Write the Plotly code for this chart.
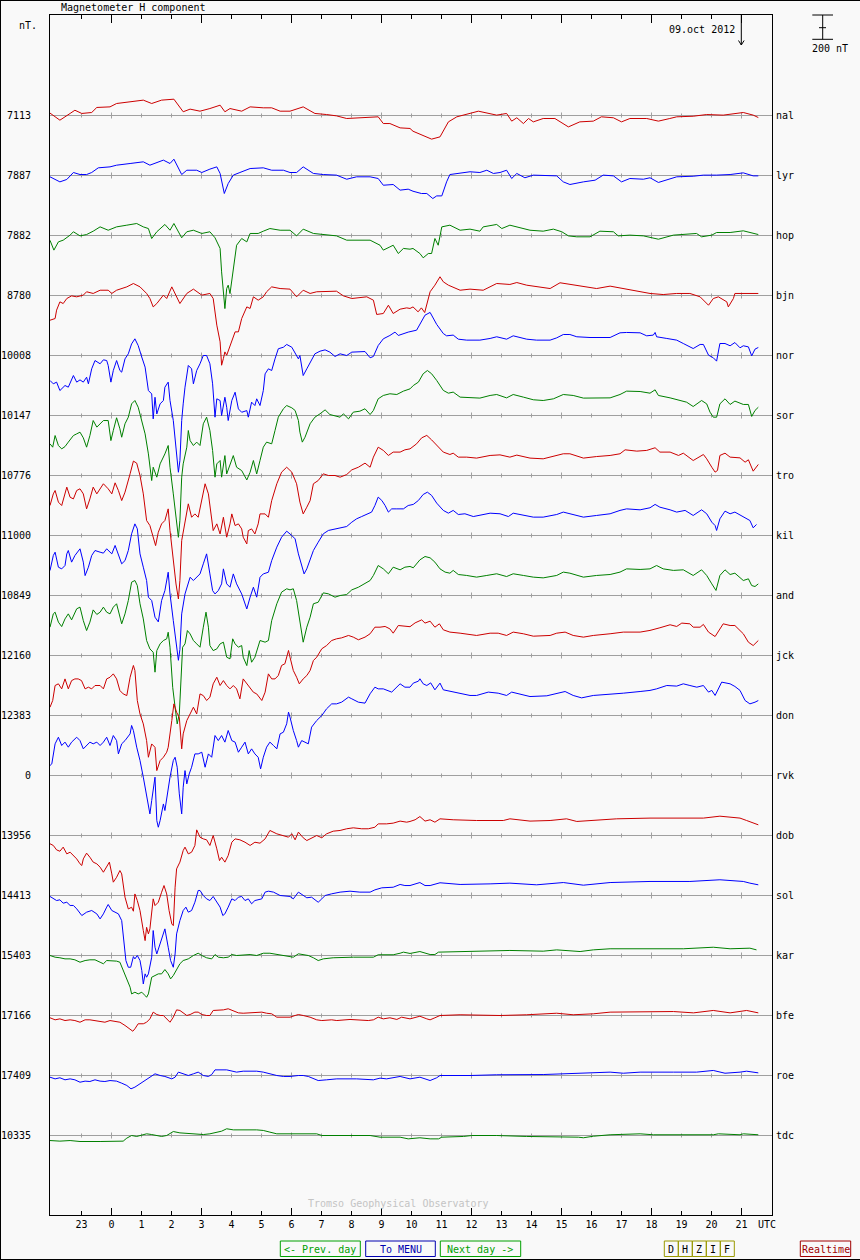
import plotly.graph_objects as go

# stations top to bottom, with the base value printed on the left
stations = ["nal", "lyr", "hop", "bjn", "nor", "sor", "tro", "kil", "and",
            "jck", "don", "rvk", "dob", "sol", "kar", "bfe", "roe", "tdc"]
base_labels = ["7113", "7887", "7882", "8780", "10008", "10147", "10776", "11000", "10849",
               "12160", "12383", "0", "13956", "14413", "15403", "17166", "17409", "10335"]

hour_ticks = list(range(-1, 22))
hour_labels = ["23", "0", "1", "2", "3", "4", "5", "6", "7", "8", "9", "10",
               "11", "12", "13", "14", "15", "16", "17", "18", "19", "20", "21"]

# H deviation from base, (hour UTC, nT); hours < 0 belong to the previous day
nal = [(-2.05, 20), (-1.72, -39), (-1.38, 17), (-1.22, 44), (-0.99, 17), (-0.66, 25), (-0.49, 67),
       (-0.05, 72), (0.17, 100), (1.06, 128), (1.34, 100), (1.67, 128), (2.08, 136), (2.39, 31),
       (2.62, 53), (2.95, 36), (3.28, 58), (3.62, 86), (3.78, 31), (3.95, 58), (4.34, 36), (4.62, 72),
       (5.06, 64), (5.34, 64), (5.62, 36), (5.95, 36), (6.39, 72), (6.78, 17), (7.17, 8), (7.5, -3),
       (7.84, -25), (8.39, -17), (8.89, -11), (9.06, -67), (9.28, -67), (9.62, -103), (9.95, -108),
       (10.05, -131), (10.39, -164), (10.67, -197), (10.95, -178), (11.23, -53), (11.51, -11),
       (11.95, 17), (12.23, 36), (12.84, 3), (13.17, 17), (13.34, -47), (13.51, -19), (13.73, -67),
       (13.9, -25), (14.06, -53), (14.39, -25), (14.78, -25), (15.06, -67), (15.23, -95), (15.61, -53),
       (16.06, -47), (16.33, -11), (16.73, -19), (17.0, -53), (17.28, -25), (17.84, -25), (18.23, -47),
       (18.61, -25), (18.84, -11), (19.39, -6), (19.84, 8), (20.39, 3), (21.06, 25), (21.39, 3),
       (21.56, -17)]

lyr = [(-2.05, -11), (-1.72, -53), (-1.49, -33), (-1.27, 25), (-1.05, 8), (-0.83, 8), (-0.66, 25),
       (-0.44, 64), (-0.05, 72), (0.17, 86), (0.62, 100), (1.06, 114), (1.28, 86), (1.51, 108),
       (1.73, 128), (1.95, 100), (2.08, 136), (2.34, 8), (2.51, 44), (2.84, 44), (3.01, 25), (3.28, 53),
       (3.51, 72), (3.62, 17), (3.71, -81), (3.76, -150), (3.89, -67), (4.06, 3), (4.28, 25),
       (4.62, 58), (5.06, 64), (5.34, 44), (5.73, 44), (5.95, 25), (6.17, 25), (6.39, 72), (6.73, 17),
       (7.06, 8), (7.5, 3), (7.84, -31), (8.17, -11), (8.62, -11), (8.89, -25), (9.06, -81),
       (9.39, -75), (9.62, -122), (9.89, -114), (10.05, -131), (10.33, -150), (10.51, -150),
       (10.71, -192), (10.84, -170), (11.01, -170), (11.17, -53), (11.28, 8), (11.62, 17), (11.95, 31),
       (12.28, 25), (12.51, 44), (12.73, 17), (12.95, 25), (13.17, 44), (13.34, -25), (13.51, 17),
       (13.78, -19), (14.06, 3), (14.39, 3), (14.84, -3), (15.06, -53), (15.28, -75), (15.73, -53),
       (16.12, -39), (16.39, 3), (16.73, -3), (17.0, -53), (17.28, -25), (17.73, -31), (17.95, -19),
       (18.23, -58), (18.51, -39), (18.84, -11), (19.39, -6), (19.73, 3), (20.17, 3), (20.62, 8),
       (21.06, 22), (21.39, -3), (21.56, -3)]

hop = [(-2.05, -40), (-1.92, -122), (-1.77, -53), (-1.61, -39), (-1.38, 3), (-1.27, 31), (-1.05, -3),
       (-0.83, 8), (-0.61, 36), (-0.38, 72), (-0.11, 44), (0.17, 72), (0.51, 86), (0.84, 100),
       (1.06, 72), (1.23, 58), (1.34, -25), (1.51, 31), (1.78, 92), (1.95, 44), (2.08, 100),
       (2.34, -19), (2.51, 31), (2.73, 44), (3.01, 17), (3.28, 31), (3.45, -19), (3.62, -108),
       (3.67, -303), (3.73, -470), (3.78, -609), (3.84, -442), (3.89, -414), (3.95, -484),
       (4.04, -303), (4.17, -81), (4.34, -25), (4.51, -53), (4.62, 17), (4.89, 17), (5.06, 36),
       (5.28, 58), (5.62, 44), (5.95, 44), (6.17, -3), (6.39, 53), (6.73, 17), (7.17, 8), (7.5, -3),
       (7.84, -39), (8.17, -39), (8.62, -39), (8.95, -81), (9.06, -122), (9.28, -95), (9.39, -81),
       (9.56, -150), (9.73, -108), (9.95, -114), (10.05, -108), (10.28, -150), (10.39, -186),
       (10.56, -150), (10.67, -150), (10.78, -25), (10.89, -81), (11.01, 72), (11.28, 86), (11.62, 44),
       (11.95, 53), (12.28, 36), (12.39, 72), (12.84, 92), (13.01, 58), (13.28, 86), (13.61, 64),
       (13.95, 44), (14.39, 36), (14.73, 53), (15.01, 31), (15.23, -3), (15.51, -11), (15.95, -11),
       (16.28, 36), (16.73, 31), (16.89, -3), (17.28, 3), (17.73, -3), (18.23, -31), (18.73, 3),
       (19.06, 11), (19.5, 17), (19.67, -11), (20.01, 3), (20.17, 25), (20.62, 25), (21.06, 39),
       (21.56, 8)]

bjn = [(-2.05, -206), (-1.88, -192), (-1.83, -122), (-1.72, -53), (-1.61, -67), (-1.49, -25),
       (-1.33, -3), (-1.16, -11), (-0.94, 3), (-0.83, 31), (-0.61, 17), (-0.38, 44), (-0.11, 44),
       (0.01, 17), (0.17, 44), (0.51, 72), (0.73, 100), (0.95, 72), (1.17, 17), (1.28, -25),
       (1.39, -95), (1.51, -67), (1.73, 3), (1.84, -25), (2.01, 72), (2.12, 17), (2.28, -67),
       (2.51, 17), (2.73, 53), (3.01, 3), (3.28, 17), (3.39, -25), (3.51, -247), (3.62, -386),
       (3.67, -581), (3.73, -525), (3.78, -470), (3.84, -498), (4.01, -386), (4.12, -303),
       (4.23, -303), (4.34, -192), (4.51, -95), (4.62, -108), (4.73, -11), (4.89, -39), (5.06, -11),
       (5.17, 31), (5.34, 72), (5.62, 58), (5.95, 53), (6.17, -11), (6.39, 44), (6.62, 17), (6.84, 31),
       (7.5, 36), (7.73, -3), (8.01, -25), (8.51, -11), (8.73, -39), (8.84, -158), (9.06, -150),
       (9.23, -81), (9.39, -150), (9.62, -114), (9.84, -103), (9.95, -108), (10.05, -95),
       (10.22, -136), (10.33, -103), (10.44, -142), (10.51, -81), (10.62, 31), (10.78, 86),
       (10.95, 156), (11.06, 114), (11.23, 86), (11.62, 44), (11.95, 53), (12.39, 44), (12.84, 100),
       (13.28, 92), (13.51, 108), (13.84, 86), (14.17, 72), (14.62, 58), (14.95, 106), (15.51, 86),
       (15.84, 72), (16.17, 58), (16.62, 78), (17.06, 58), (17.51, 36), (17.95, 17), (18.39, 8),
       (18.84, 17), (19.28, 17), (19.62, -11), (19.9, -81), (20.06, -25), (20.23, -11), (20.51, -53),
       (20.56, -95), (20.73, -25), (20.78, 17), (21.06, 17), (21.56, 17)]

nor = [(-2.05, -208), (-1.94, -236), (-1.83, -222), (-1.72, -292), (-1.55, -250), (-1.44, -264),
       (-1.27, -167), (-1.16, -222), (-1.05, -203), (-0.94, -222), (-0.83, -181), (-0.77, -236),
       (-0.66, -111), (-0.55, -42), (-0.38, -69), (-0.27, -36), (-0.16, -42), (-0.11, -83),
       (-0.02, -222), (0.06, -125), (0.17, -42), (0.28, -125), (0.34, -139), (0.45, -28), (0.56, 14),
       (0.67, 97), (0.78, 139), (0.89, 83), (1.01, -14), (1.12, -97), (1.23, -292), (1.34, -320),
       (1.39, -528), (1.45, -348), (1.51, -487), (1.62, -403), (1.73, -375), (1.78, -264),
       (1.89, -222), (1.95, -375), (2.06, -542), (2.15, -792), (2.23, -973), (2.28, -876),
       (2.34, -542), (2.39, -403), (2.45, -264), (2.56, -83), (2.67, -111), (2.73, -236),
       (2.84, -125), (2.95, -69), (3.06, 0), (3.17, 0), (3.28, -69), (3.37, -236), (3.45, -514),
       (3.51, -361), (3.62, -375), (3.67, -500), (3.78, -348), (3.84, -431), (3.89, -542),
       (4.01, -375), (4.12, -306), (4.23, -445), (4.34, -473), (4.51, -459), (4.56, -514),
       (4.67, -389), (4.78, -417), (4.84, -361), (4.95, -417), (5.06, -292), (5.12, -153),
       (5.23, -111), (5.34, -125), (5.45, -28), (5.56, 56), (5.73, 69), (5.84, 92), (6.01, 69),
       (6.12, 14), (6.23, -28), (6.28, 0), (6.39, -167), (6.51, -111), (6.62, -56), (6.78, 14),
       (6.95, 36), (7.12, 47), (7.28, 28), (7.45, -8), (7.62, 14), (7.84, 0), (8.01, 28), (8.17, 28),
       (8.45, 33), (8.62, -19), (8.73, -8), (8.89, 83), (9.06, 139), (9.28, 167), (9.45, 195),
       (9.56, 167), (9.73, 181), (9.89, 195), (10.17, 211), (10.34, 295), (10.45, 336), (10.62, 359),
       (10.73, 309), (10.84, 259), (11.06, 183), (11.17, 164), (11.39, 170), (11.56, 136),
       (11.84, 128), (12.28, 128), (12.62, 142), (12.84, 156), (13.17, 136), (13.39, 164),
       (13.84, 136), (14.17, 128), (14.62, 128), (14.84, 147), (15.06, 175), (15.28, 175),
       (15.51, 156), (15.95, 150), (16.62, 150), (16.95, 189), (17.17, 192), (17.62, 189),
       (17.84, 164), (18.06, 170), (18.12, 192), (18.17, 156), (18.51, 142), (18.84, 128),
       (19.06, 100), (19.39, 58), (19.62, 92), (19.73, 92), (19.9, 3), (20.06, -19), (20.17, -47),
       (20.28, 100), (20.45, 100), (20.62, 81), (20.78, 108), (20.95, 64), (21.06, 81), (21.23, 72),
       (21.34, -3), (21.45, 53), (21.56, 67)]

sor = [(-2.05, -236), (-1.96, -264), (-1.88, -167), (-1.77, -250), (-1.66, -278), (-1.55, -259),
       (-1.44, -222), (-1.27, -167), (-1.16, -153), (-1.05, -139), (-0.94, -186), (-0.83, -264),
       (-0.72, -167), (-0.61, -42), (-0.49, -97), (-0.38, -69), (-0.27, -42), (-0.11, -42),
       (-0.02, -209), (0.06, -125), (0.17, -19), (0.28, -111), (0.34, -181), (0.45, -69), (0.56, -14),
       (0.67, 97), (0.78, 125), (0.89, 69), (1.01, -42), (1.12, -153), (1.23, -320), (1.34, -542),
       (1.39, -431), (1.51, -514), (1.62, -403), (1.73, -348), (1.78, -320), (1.89, -250),
       (1.95, -431), (2.06, -653), (2.15, -876), (2.23, -1015), (2.28, -876), (2.34, -514),
       (2.39, -403), (2.51, -264), (2.56, -125), (2.62, -209), (2.73, -250), (2.84, -222),
       (2.95, -250), (3.06, -69), (3.17, -14), (3.28, -125), (3.37, -292), (3.45, -514), (3.51, -403),
       (3.62, -375), (3.67, -514), (3.78, -334), (3.84, -487), (3.95, -403), (4.06, -334),
       (4.17, -431), (4.34, -459), (4.51, -537), (4.62, -473), (4.73, -375), (4.84, -487),
       (4.95, -375), (5.06, -264), (5.17, -222), (5.34, -236), (5.45, -125), (5.56, -14), (5.73, 56),
       (5.84, 83), (6.01, 64), (6.12, 42), (6.23, -42), (6.28, -139), (6.36, -222), (6.45, -181),
       (6.62, -69), (6.78, -14), (6.95, 14), (7.12, 47), (7.28, 8), (7.45, 0), (7.62, -14), (7.73, 14),
       (7.9, -28), (8.06, 28), (8.28, 36), (8.45, 56), (8.62, 8), (8.73, 42), (8.89, 139), (9.06, 167),
       (9.28, 181), (9.51, 175), (9.73, 203), (9.95, 222), (10.06, 250), (10.23, 278), (10.39, 348),
       (10.53, 375), (10.67, 348), (10.84, 292), (11.06, 209), (11.23, 186), (11.39, 195),
       (11.62, 153), (11.95, 147), (12.28, 145), (12.62, 167), (12.84, 175), (13.17, 147),
       (13.39, 175), (13.73, 153), (14.06, 131), (14.39, 125), (14.73, 139), (15.06, 175),
       (15.39, 167), (15.73, 145), (16.17, 145), (16.62, 147), (16.95, 175), (17.17, 203),
       (17.62, 200), (17.95, 186), (18.12, 214), (18.23, 167), (18.62, 147), (18.95, 125),
       (19.17, 111), (19.39, 75), (19.67, 125), (19.84, 97), (19.95, 28), (20.06, -14), (20.17, -14),
       (20.28, 97), (20.45, 139), (20.62, 92), (20.78, 120), (21.06, 92), (21.23, 92), (21.34, -8),
       (21.45, 42), (21.56, 69)]

tro = [(-2.05, -250), (-1.94, -153), (-1.88, -125), (-1.77, -222), (-1.66, -250), (-1.55, -153),
       (-1.49, -97), (-1.38, -181), (-1.27, -195), (-1.16, -125), (-1.05, -111), (-0.94, -153),
       (-0.83, -278), (-0.72, -195), (-0.61, -97), (-0.49, -153), (-0.38, -111), (-0.27, -69),
       (-0.11, -111), (0.01, -153), (0.12, -61), (0.23, -125), (0.34, -209), (0.45, -139), (0.62, 14),
       (0.73, 120), (0.84, 103), (0.95, 0), (1.06, -153), (1.17, -375), (1.28, -417), (1.39, -514),
       (1.47, -584), (1.56, -473), (1.67, -403), (1.78, -375), (1.89, -278), (1.95, -459),
       (2.06, -709), (2.15, -904), (2.23, -1029), (2.28, -876), (2.34, -542), (2.45, -375),
       (2.56, -236), (2.67, -348), (2.78, -320), (2.89, -348), (3.01, -209), (3.12, -69),
       (3.23, -153), (3.34, -375), (3.39, -459), (3.51, -403), (3.62, -487), (3.73, -348),
       (3.84, -514), (3.95, -403), (4.01, -320), (4.12, -417), (4.23, -403), (4.34, -445),
       (4.39, -514), (4.51, -570), (4.56, -459), (4.67, -445), (4.78, -487), (4.89, -403),
       (4.95, -320), (5.12, -320), (5.23, -348), (5.34, -209), (5.51, -69), (5.67, 28), (5.84, 69),
       (6.01, 28), (6.17, -69), (6.28, -222), (6.39, -320), (6.51, -264), (6.62, -209), (6.73, -69),
       (6.89, -42), (7.06, 14), (7.23, 0), (7.45, 0), (7.62, -14), (7.84, 8), (8.01, 47), (8.23, 69),
       (8.45, 103), (8.62, 69), (8.73, 153), (8.89, 236), (9.06, 209), (9.23, 167), (9.39, 195),
       (9.62, 195), (9.78, 214), (9.95, 222), (10.17, 264), (10.34, 314), (10.51, 334), (10.67, 297),
       (10.84, 250), (11.06, 195), (11.28, 175), (11.39, 186), (11.56, 153), (11.84, 153),
       (12.17, 145), (12.62, 167), (12.95, 172), (13.28, 153), (13.51, 170), (13.95, 145),
       (14.39, 139), (14.84, 167), (15.06, 181), (15.28, 181), (15.73, 145), (16.17, 158),
       (16.62, 167), (16.95, 181), (17.12, 214), (17.51, 203), (17.84, 209), (18.12, 231),
       (18.28, 195), (18.62, 195), (18.9, 167), (19.06, 186), (19.39, 125), (19.73, 175),
       (19.84, 139), (20.01, 69), (20.12, 28), (20.2, 42), (20.28, 167), (20.45, 186), (20.62, 153),
       (20.95, 147), (21.12, 111), (21.23, 131), (21.34, 69), (21.39, 36), (21.56, 92)]

kil = [(-2.05, -292), (-1.94, -167), (-1.88, -139), (-1.77, -264), (-1.66, -278), (-1.55, -250),
       (-1.49, -153), (-1.44, -125), (-1.33, -222), (-1.22, -167), (-1.05, -111), (-0.94, -222),
       (-0.88, -334), (-0.77, -264), (-0.66, -167), (-0.55, -125), (-0.38, -139), (-0.27, -147),
       (-0.16, -111), (0.01, -153), (0.12, -83), (0.23, -167), (0.34, -236), (0.45, -209),
       (0.56, -125), (0.67, 14), (0.78, 97), (0.86, 56), (0.95, -153), (1.06, -264), (1.17, -375),
       (1.23, -514), (1.34, -542), (1.45, -681), (1.56, -720), (1.67, -542), (1.78, -459),
       (1.89, -306), (1.95, -487), (2.06, -709), (2.15, -900), (2.23, -1040), (2.28, -950),
       (2.34, -653), (2.45, -487), (2.56, -403), (2.62, -348), (2.73, -375), (2.84, -348),
       (2.95, -320), (3.06, -236), (3.17, -153), (3.28, -320), (3.37, -459), (3.45, -487),
       (3.56, -459), (3.67, -403), (3.73, -278), (3.84, -403), (3.95, -431), (4.06, -320),
       (4.17, -403), (4.34, -487), (4.45, -570), (4.51, -612), (4.62, -514), (4.73, -431),
       (4.84, -514), (4.95, -348), (5.06, -320), (5.23, -306), (5.34, -209), (5.51, -97), (5.67, -14),
       (5.84, 36), (6.01, 0), (6.12, -28), (6.23, -153), (6.34, -264), (6.42, -320), (6.51, -278),
       (6.62, -209), (6.73, -125), (6.89, -56), (7.06, 14), (7.23, 42), (7.45, 56), (7.67, 64),
       (7.84, 75), (8.01, 111), (8.17, 139), (8.34, 158), (8.56, 186), (8.67, 195), (8.78, 250),
       (8.89, 320), (9.01, 292), (9.12, 250), (9.23, 195), (9.34, 222), (9.51, 222), (9.73, 222),
       (9.89, 250), (10.06, 259), (10.23, 292), (10.39, 342), (10.53, 361), (10.67, 334),
       (10.84, 270), (11.06, 209), (11.23, 186), (11.39, 209), (11.56, 175), (11.78, 181),
       (12.06, 158), (12.28, 167), (12.62, 186), (12.95, 181), (13.23, 158), (13.39, 186),
       (13.73, 167), (14.06, 153), (14.39, 153), (14.84, 175), (15.06, 195), (15.28, 181),
       (15.73, 153), (16.17, 167), (16.62, 181), (16.95, 209), (17.17, 222), (17.62, 214),
       (17.95, 231), (18.12, 259), (18.28, 236), (18.62, 214), (18.84, 195), (19.12, 209),
       (19.39, 167), (19.67, 214), (19.84, 181), (20.01, 111), (20.12, 83), (20.17, 42), (20.28, 139),
       (20.45, 203), (20.62, 181), (20.78, 195), (21.06, 153), (21.28, 125), (21.39, 64), (21.5, 92)]

and_ = [(-2.05, -264), (-1.94, -153), (-1.88, -139), (-1.77, -222), (-1.66, -259), (-1.55, -195),
        (-1.44, -153), (-1.33, -203), (-1.16, -111), (-1.05, -97), (-0.94, -209), (-0.83, -292),
        (-0.72, -222), (-0.61, -120), (-0.49, -158), (-0.38, -139), (-0.27, -97), (-0.16, -139),
        (-0.05, -153), (0.06, -97), (0.17, -69), (0.28, -167), (0.34, -236), (0.45, -153),
        (0.56, -42), (0.67, 111), (0.78, 125), (0.86, 83), (0.95, -69), (1.06, -195), (1.17, -375),
        (1.28, -445), (1.39, -473), (1.45, -639), (1.51, -459), (1.62, -403), (1.73, -375),
        (1.84, -361), (1.89, -306), (1.95, -431), (2.04, -765), (2.12, -931), (2.19, -1070),
        (2.26, -987), (2.31, -681), (2.37, -431), (2.45, -403), (2.53, -292), (2.62, -320),
        (2.73, -375), (2.84, -403), (2.95, -431), (3.06, -264), (3.15, -139), (3.23, -264),
        (3.28, -417), (3.39, -459), (3.51, -445), (3.62, -403), (3.73, -389), (3.84, -514),
        (3.95, -528), (4.04, -361), (4.12, -403), (4.23, -431), (4.34, -417), (4.39, -514),
        (4.51, -584), (4.59, -459), (4.67, -556), (4.78, -514), (4.89, -431), (4.95, -375),
        (5.12, -389), (5.23, -375), (5.34, -209), (5.51, -69), (5.67, 28), (5.84, 56), (5.95, 47),
        (6.06, 56), (6.17, -42), (6.28, -209), (6.39, -389), (6.51, -264), (6.62, -181), (6.73, -69),
        (6.89, -56), (7.06, 22), (7.23, 14), (7.45, -14), (7.62, 0), (7.84, 8), (8.01, 47), (8.23, 69),
        (8.45, 97), (8.62, 125), (8.73, 167), (8.89, 250), (9.06, 222), (9.23, 181), (9.39, 236),
        (9.62, 214), (9.78, 236), (9.95, 242), (10.06, 231), (10.17, 264), (10.28, 297), (10.45, 325),
        (10.62, 314), (10.78, 278), (10.95, 222), (11.12, 195), (11.28, 186), (11.39, 209),
        (11.56, 175), (11.84, 167), (12.17, 153), (12.51, 167), (12.84, 181), (13.17, 158),
        (13.39, 181), (13.73, 167), (14.06, 153), (14.39, 147), (14.84, 167), (15.06, 195),
        (15.28, 186), (15.73, 153), (16.17, 167), (16.62, 175), (16.95, 195), (17.17, 222),
        (17.62, 217), (17.95, 222), (18.17, 250), (18.39, 222), (18.73, 209), (19.06, 214),
        (19.39, 167), (19.67, 214), (19.84, 167), (20.01, 97), (20.15, 42), (20.28, 167), (20.45, 214),
        (20.62, 175), (20.78, 186), (21.06, 125), (21.23, 139), (21.34, 83), (21.45, 75), (21.56, 97)]

jck = [(-2.05, -431), (-1.96, -375), (-1.88, -250), (-1.77, -236), (-1.66, -278), (-1.55, -195),
       (-1.44, -278), (-1.33, -209), (-1.22, -195), (-1.11, -195), (-1.0, -209), (-0.88, -278),
       (-0.77, -264), (-0.66, -278), (-0.55, -250), (-0.38, -250), (-0.27, -278), (-0.16, -195),
       (-0.05, -181), (0.06, -153), (0.17, -195), (0.28, -292), (0.39, -320), (0.51, -334),
       (0.62, -181), (0.73, -83), (0.78, -125), (0.86, -375), (0.95, -487), (1.06, -570),
       (1.17, -709), (1.23, -848), (1.34, -737), (1.45, -765), (1.51, -959), (1.62, -876),
       (1.73, -848), (1.84, -806), (1.89, -765), (1.95, -626), (2.01, -542), (2.08, -403),
       (2.17, -473), (2.26, -514), (2.34, -778), (2.39, -653), (2.45, -598), (2.51, -542),
       (2.62, -487), (2.73, -431), (2.84, -487), (2.95, -320), (3.06, -334), (3.17, -375),
       (3.28, -348), (3.39, -236), (3.51, -181), (3.62, -250), (3.73, -209), (3.84, -250),
       (3.95, -278), (4.06, -250), (4.17, -278), (4.28, -361), (4.39, -195), (4.51, -236),
       (4.62, -264), (4.73, -306), (4.84, -320), (5.01, -375), (5.12, -306), (5.23, -153),
       (5.34, -195), (5.45, -195), (5.56, -167), (5.67, -83), (5.78, -69), (5.9, 42), (5.95, -14),
       (6.06, -125), (6.17, -181), (6.26, -236), (6.39, -195), (6.51, -167), (6.62, -125),
       (6.73, -42), (6.84, -14), (7.01, 56), (7.17, 83), (7.34, 125), (7.5, 139), (7.67, 147),
       (7.9, 167), (8.06, 153), (8.23, 131), (8.45, 153), (8.62, 181), (8.78, 236), (8.95, 236),
       (9.12, 242), (9.28, 222), (9.39, 186), (9.56, 250), (9.73, 245), (9.95, 240), (10.12, 272),
       (10.34, 297), (10.45, 270), (10.62, 286), (10.78, 236), (10.93, 264), (11.06, 214),
       (11.28, 195), (11.62, 186), (11.95, 175), (12.17, 167), (12.62, 186), (12.89, 186),
       (13.17, 167), (13.39, 195), (13.73, 181), (14.06, 161), (14.62, 167), (14.84, 186),
       (15.12, 195), (15.39, 167), (15.73, 153), (16.06, 167), (16.62, 181), (17.06, 195),
       (17.62, 195), (17.95, 209), (18.28, 231), (18.62, 256), (18.84, 242), (19.01, 270),
       (19.28, 264), (19.39, 236), (19.62, 236), (19.73, 259), (19.9, 195), (20.12, 158), (20.39, 264),
       (20.62, 250), (20.78, 250), (21.06, 181), (21.23, 111), (21.39, 83), (21.56, 125)]

don = [(-2.05, -417), (-1.99, -403), (-1.88, -236), (-1.77, -181), (-1.66, -250), (-1.55, -222),
       (-1.44, -264), (-1.33, -222), (-1.16, -181), (-1.05, -209), (-0.94, -278), (-0.83, -250),
       (-0.72, -222), (-0.61, -236), (-0.49, -222), (-0.38, -250), (-0.27, -222), (-0.16, -181),
       (-0.05, -250), (0.06, -167), (0.17, -209), (0.23, -320), (0.34, -236), (0.45, -209),
       (0.62, -153), (0.67, -83), (0.73, -125), (0.84, -264), (0.95, -375), (1.06, -514),
       (1.17, -653), (1.28, -820), (1.34, -709), (1.39, -626), (1.45, -514), (1.51, -876),
       (1.56, -931), (1.62, -876), (1.73, -737), (1.78, -792), (1.84, -681), (1.89, -626),
       (1.95, -514), (2.06, -375), (2.12, -348), (2.19, -431), (2.26, -653), (2.34, -820),
       (2.39, -598), (2.45, -459), (2.51, -570), (2.59, -487), (2.67, -431), (2.78, -320),
       (2.89, -320), (3.01, -306), (3.12, -431), (3.23, -320), (3.34, -348), (3.45, -167),
       (3.56, -209), (3.67, -167), (3.78, -222), (3.89, -125), (4.01, -209), (4.12, -222),
       (4.23, -306), (4.34, -264), (4.45, -222), (4.56, -320), (4.67, -278), (4.78, -320),
       (4.89, -348), (4.97, -445), (5.06, -348), (5.17, -264), (5.28, -222), (5.4, -250),
       (5.51, -278), (5.62, -153), (5.73, -139), (5.84, -69), (5.9, 28), (5.95, -14), (6.06, -125),
       (6.17, -209), (6.23, -264), (6.34, -209), (6.45, -222), (6.56, -236), (6.67, -97),
       (6.84, -42), (7.01, 0), (7.17, 56), (7.34, 97), (7.5, 97), (7.67, 111), (7.9, 153), (8.01, 139),
       (8.12, 125), (8.23, 111), (8.45, 103), (8.62, 181), (8.78, 236), (8.89, 222), (9.06, 222),
       (9.17, 209), (9.34, 195), (9.45, 222), (9.62, 264), (9.78, 236), (9.95, 236), (10.06, 270),
       (10.23, 286), (10.28, 306), (10.39, 264), (10.51, 250), (10.64, 272), (10.78, 214),
       (10.95, 270), (11.06, 214), (11.28, 203), (11.62, 186), (11.95, 167), (12.17, 167),
       (12.56, 195), (12.89, 186), (13.17, 167), (13.34, 195), (13.73, 172), (13.95, 158),
       (14.51, 164), (14.84, 186), (15.12, 200), (15.39, 167), (15.67, 147), (16.06, 167),
       (16.62, 175), (17.06, 186), (17.62, 200), (17.95, 209), (18.17, 222), (18.51, 250),
       (18.84, 245), (19.06, 264), (19.28, 250), (19.51, 236), (19.73, 250), (19.9, 195), (20.01, 209),
       (20.12, 167), (20.34, 278), (20.62, 264), (20.78, 242), (20.95, 209), (21.12, 125), (21.28, 97),
       (21.45, 111), (21.56, 125)]

rvk = []   # no data this day

dob = [(-2.05, -69), (-1.94, -83), (-1.83, -120), (-1.72, -131), (-1.61, -97), (-1.49, -153),
       (-1.38, -139), (-1.27, -167), (-1.16, -195), (-1.05, -236), (-0.99, -250), (-0.94, -195),
       (-0.83, -147), (-0.72, -181), (-0.61, -222), (-0.49, -236), (-0.38, -264), (-0.27, -306),
       (-0.16, -264), (-0.07, -222), (0.01, -320), (0.06, -389), (0.17, -348), (0.28, -292),
       (0.34, -320), (0.39, -431), (0.45, -514), (0.56, -612), (0.67, -598), (0.73, -631),
       (0.78, -487), (0.86, -542), (0.95, -626), (1.06, -792), (1.12, -876), (1.17, -765),
       (1.23, -820), (1.28, -778), (1.34, -653), (1.39, -528), (1.45, -584), (1.56, -556),
       (1.67, -473), (1.75, -417), (1.84, -487), (1.92, -626), (2.01, -737), (2.06, -751),
       (2.12, -431), (2.17, -278), (2.28, -222), (2.39, -125), (2.45, -97), (2.56, -153), (2.67, -139),
       (2.78, -83), (2.84, 47), (2.95, -14), (3.06, -28), (3.17, -36), (3.28, -83), (3.39, 0),
       (3.51, -111), (3.6, -209), (3.67, -181), (3.78, -222), (3.89, -167), (4.01, -56), (4.12, -28),
       (4.28, -36), (4.45, -56), (4.62, -83), (4.78, -56), (4.95, -64), (5.12, -28), (5.28, 42),
       (5.51, 14), (5.73, 0), (5.9, -14), (6.01, 14), (6.12, -36), (6.23, 28), (6.39, -19),
       (6.51, -42), (6.67, -19), (6.84, 0), (7.01, -19), (7.17, 14), (7.39, 36), (7.62, 42), (7.84, 56),
       (8.06, 64), (8.34, 56), (8.56, 56), (8.78, 69), (8.89, 97), (9.17, 97), (9.39, 103), (9.62, 120),
       (9.84, 111), (9.95, 117), (10.12, 131), (10.28, 158), (10.45, 120), (10.62, 131), (10.78, 111),
       (10.95, 139), (11.39, 131), (12.17, 125), (13.06, 125), (13.28, 139), (13.95, 120),
       (14.62, 125), (15.17, 139), (15.51, 117), (16.39, 131), (16.84, 139), (17.95, 145),
       (18.84, 147), (19.73, 145), (20.28, 161), (20.95, 145), (21.17, 125), (21.39, 103), (21.56, 89)]

sol = [(-2.05, -8), (-1.94, -28), (-1.83, -42), (-1.72, -36), (-1.61, -64), (-1.49, -56), (-1.38, -83),
       (-1.27, -83), (-1.16, -111), (-0.99, -167), (-0.83, -139), (-0.66, -125), (-0.49, -153),
       (-0.38, -195), (-0.27, -153), (-0.16, -97), (-0.11, -75), (0.01, -125), (0.12, -139),
       (0.23, -153), (0.34, -209), (0.39, -320), (0.48, -542), (0.56, -598), (0.64, -598), (0.73, -509),
       (0.78, -528), (0.86, -500), (0.95, -542), (1.01, -626), (1.06, -737), (1.12, -653),
       (1.17, -681), (1.23, -653), (1.34, -514), (1.39, -292), (1.45, -431), (1.51, -487),
       (1.62, -403), (1.73, -320), (1.78, -278), (1.89, -431), (1.97, -542), (2.06, -598),
       (2.12, -487), (2.17, -320), (2.28, -209), (2.39, -125), (2.48, -97), (2.56, -139), (2.67, -125),
       (2.78, -56), (2.89, 42), (2.95, 42), (3.06, 0), (3.17, -28), (3.28, -42), (3.39, -8),
       (3.51, -56), (3.62, -97), (3.71, -167), (3.78, -153), (3.89, -97), (4.01, -28), (4.12, -42),
       (4.23, -14), (4.34, -8), (4.45, -42), (4.56, -28), (4.67, -69), (4.78, -42), (5.01, -28),
       (5.12, 28), (5.23, 36), (5.4, 28), (5.62, 0), (5.95, -8), (6.06, -28), (6.23, 28), (6.39, 0),
       (6.51, -19), (6.67, -14), (6.78, -36), (6.89, -56), (7.01, -28), (7.12, 0), (7.34, 14),
       (7.62, 28), (7.95, 36), (8.28, 28), (8.62, 28), (8.78, 47), (9.01, 64), (9.39, 69), (9.62, 92),
       (9.78, 83), (9.95, 83), (10.12, 97), (10.28, 108), (10.45, 83), (10.62, 83), (10.95, 106),
       (11.62, 92), (12.62, 97), (13.28, 103), (14.17, 89), (15.06, 108), (15.73, 86), (16.62, 108),
       (17.95, 117), (19.28, 117), (20.28, 131), (21.06, 117), (21.28, 103), (21.56, 89)]

kar = [(-2.05, 0), (-1.88, -14), (-1.72, -19), (-1.55, -28), (-1.38, -28), (-1.22, -36), (-1.05, -56),
       (-0.88, -42), (-0.72, -36), (-0.55, -36), (-0.38, -56), (-0.27, -69), (-0.16, -42), (0.01, -42),
       (0.17, -47), (0.28, -56), (0.39, -125), (0.51, -195), (0.62, -264), (0.67, -320), (0.78, -306),
       (0.89, -320), (1.01, -306), (1.12, -334), (1.17, -348), (1.23, -320), (1.34, -181),
       (1.45, -167), (1.56, -153), (1.67, -153), (1.78, -117), (1.89, -153), (1.97, -195),
       (2.06, -167), (2.17, -111), (2.28, -69), (2.39, -42), (2.56, -28), (2.73, 0), (2.89, 19),
       (3.01, 0), (3.17, -19), (3.34, -28), (3.45, 8), (3.56, -14), (3.73, -19), (3.89, -14), (4.01, 8),
       (4.17, 0), (4.62, 8), (4.84, 0), (5.06, 19), (5.28, 19), (5.73, 0), (5.95, -8), (6.06, -14),
       (6.23, 14), (6.56, 0), (6.73, -19), (6.89, -42), (7.06, -28), (7.39, -19), (8.06, -14),
       (8.73, -14), (8.89, 6), (9.39, 6), (9.62, 19), (9.73, 28), (9.95, 17), (10.28, 33), (10.62, 8),
       (10.78, 8), (10.9, 28), (11.62, 33), (12.73, 36), (13.28, 42), (14.39, 36), (14.84, 47),
       (15.62, 33), (16.06, 47), (16.62, 56), (17.73, 56), (18.39, 61), (19.06, 56), (20.06, 69),
       (20.62, 56), (21.28, 61), (21.5, 47)]

bfe = [(-2.05, -19), (-1.88, -36), (-1.72, -28), (-1.55, -42), (-1.38, -36), (-1.22, -42),
       (-1.05, -56), (-0.88, -36), (-0.72, -36), (-0.55, -42), (-0.38, -50), (-0.22, -56), (-0.05, -42),
       (0.12, -50), (0.28, -56), (0.45, -83), (0.62, -111), (0.71, -131), (0.78, -111), (0.89, -69),
       (1.06, -69), (1.17, -56), (1.28, -28), (1.39, 28), (1.51, 8), (1.62, 0), (1.73, 0), (1.84, -28),
       (1.95, -56), (2.06, -14), (2.17, 47), (2.28, 42), (2.39, 19), (2.51, 0), (2.62, 8), (2.78, 28),
       (2.89, 28), (3.01, 8), (3.17, 0), (3.28, 0), (3.39, 42), (3.56, 42), (3.73, 47), (3.89, 56),
       (4.06, 42), (4.23, 22), (4.39, 19), (4.84, 22), (5.01, 28), (5.17, 19), (5.34, 14), (5.51, -14),
       (5.95, -14), (6.12, 0), (6.23, 8), (6.39, 0), (6.62, -14), (6.84, -36), (7.01, -42), (7.34, -36),
       (7.51, -42), (7.95, -33), (8.39, -36), (8.56, -42), (8.73, -36), (8.89, -14), (9.06, -28),
       (9.28, -19), (9.51, -33), (9.67, -14), (9.95, -28), (10.12, -14), (10.28, -6), (10.51, -28),
       (10.62, -36), (10.78, -19), (10.95, 0), (11.62, 6), (12.95, 0), (13.84, 6), (14.84, 19),
       (15.39, 6), (16.06, 14), (16.62, 28), (17.62, 28), (18.73, 33), (19.4, 22), (20.06, 42),
       (20.62, 22), (21.17, 42), (21.56, 22)]

roe = [(-2.05, -14), (-1.88, -28), (-1.72, -19), (-1.55, -36), (-1.38, -28), (-1.22, -36),
       (-1.05, -56), (-0.88, -47), (-0.72, -50), (-0.55, -36), (-0.38, -47), (-0.22, -50), (-0.05, -42),
       (0.17, -47), (0.34, -64), (0.51, -83), (0.65, -111), (0.78, -97), (0.95, -69), (1.12, -42),
       (1.28, -19), (1.45, 14), (1.62, 0), (1.78, -8), (2.01, -28), (2.12, -14), (2.23, 28), (2.39, 14),
       (2.56, 0), (2.73, 14), (2.89, 28), (3.06, 0), (3.23, -8), (3.34, 8), (3.45, 47), (3.84, 47),
       (4.01, 36), (4.17, 28), (4.39, 36), (4.84, 36), (5.06, 28), (5.28, 14), (5.51, 0), (5.73, -8),
       (5.95, -8), (6.23, 0), (6.39, 0), (6.56, -8), (6.73, -28), (6.89, -42), (7.17, -36), (7.51, -28),
       (8.17, -28), (8.73, -36), (8.95, -22), (9.17, -28), (9.62, -8), (9.78, -19), (9.95, -28),
       (10.28, -14), (10.62, -42), (10.84, -19), (10.95, 0), (11.95, 0), (12.84, 6), (14.39, 8),
       (15.17, 14), (16.06, 19), (16.62, 28), (17.06, 19), (17.62, 28), (18.73, 28), (19.5, 28),
       (20.06, 42), (20.45, 19), (20.95, 28), (21.17, 36), (21.56, 22)]

tdc = [(-2.05, -42), (-1.72, -47), (-1.38, -42), (-1.05, -50), (-0.38, -50), (0.39, -47), (0.51, -22),
       (0.67, 0), (0.84, -8), (0.95, 0), (1.17, 14), (1.34, 8), (1.51, 0), (1.67, -8), (1.84, 0),
       (1.95, 14), (2.06, 33), (2.28, 22), (2.89, 14), (3.06, 8), (3.28, 14), (3.51, 28), (3.67, 36),
       (3.84, 56), (4.06, 47), (4.84, 47), (5.06, 42), (5.28, 28), (5.51, 14), (6.84, 14), (7.01, 0),
       (8.62, 0), (8.95, -14), (9.62, -14), (9.89, -28), (10.28, -19), (10.62, -28), (10.9, -28),
       (11.01, -14), (11.73, -8), (12.01, 0), (12.84, 0), (13.84, -8), (15.56, -14), (15.73, -19),
       (16.06, -6), (16.62, 6), (17.62, 14), (18.06, 6), (20.06, 6), (20.23, 14), (20.95, 6),
       (21.06, 14), (21.56, 6)]

records = {"nal": nal, "lyr": lyr, "hop": hop, "bjn": bjn, "nor": nor, "sor": sor, "tro": tro,
           "kil": kil, "and": and_, "jck": jck, "don": don, "rvk": rvk, "dob": dob, "sol": sol,
           "kar": kar, "bfe": bfe, "roe": roe, "tdc": tdc}

# ---------------------------------------------------------------- layout constants
W, H = 860, 1260
X0, X1, Y0, Y1 = 50, 772, 15, 1215       # plot box, px
HOUR0_PX, PX_PER_HOUR = 111.5, 30
NT_PER_PX = 200 / 24                      # 200 nT scale bar is 24 px
FIRST_ROW_PX, ROW_PX = 115.5, 60
FONT = "DejaVu Sans Mono"
COLORS = ["#cc0000", "#0000ff", "#008000"]
BG = "#f9f9f9"


def px(x):
    return x / W


def py(y):
    return 1 - y / H


def row_px(i):
    return FIRST_ROW_PX + i * ROW_PX


def base_nt(i):
    return -(row_px(i) - Y0) * NT_PER_PX


x_range = [(X0 - HOUR0_PX) / PX_PER_HOUR, (X1 - HOUR0_PX) / PX_PER_HOUR]
y_range = [-(Y1 - Y0) * NT_PER_PX, 0]

fig = go.Figure()

# gray baselines with hour marks
gx, gy = [], []
for i in range(len(stations)):
    b = base_nt(i)
    gx += [x_range[0], x_range[1], None]
    gy += [b, b, None]
    for h in hour_ticks:
        half = (3 if h % 3 == 0 else 2) * NT_PER_PX
        gx += [h, h, None]
        gy += [b - half, b + half, None]
fig.add_trace(go.Scatter(x=gx, y=gy, mode="lines", line=dict(color="#a0a0a0", width=1),
                         hoverinfo="skip", showlegend=False))

# station traces
for i, st in enumerate(stations):
    data = records[st]
    if not data:
        continue
    t, v = zip(*data)
    b = base_nt(i)
    fig.add_trace(go.Scatter(x=list(t), y=[b + d for d in v], mode="lines", name=st,
                             line=dict(color=COLORS[i % 3], width=1), showlegend=False))

shapes = []
ann = []


def text(s, x, y, anchor="center", color="black", size=10):
    ann.append(dict(text=s, x=px(x), y=py(y), xref="paper", yref="paper", xanchor=anchor,
                    yanchor="middle", showarrow=False, font=dict(family=FONT, size=size, color=color)))


def line(x0, y0, x1, y1, color="black", width=1):
    shapes.append(dict(type="line", xref="paper", yref="paper", x0=px(x0), y0=py(y0),
                       x1=px(x1), y1=py(y1), line=dict(color=color, width=width)))


# longer ticks every 3 hours, top and bottom
for h in range(0, 22, 3):
    shapes.append(dict(type="line", xref="x", yref="paper", x0=h, x1=h, y0=py(Y1), y1=py(Y1 - 7),
                       line=dict(color="black", width=1)))
    shapes.append(dict(type="line", xref="x", yref="paper", x0=h, x1=h, y0=py(Y0), y1=py(Y0 + 8),
                       line=dict(color="black", width=1)))

for i, st in enumerate(stations):
    text(base_labels[i], 33, row_px(i), anchor="right")
    text(st, 774, row_px(i), anchor="left")

text("Magnetometer H component", 59, 7.5, anchor="left")
text("nT.", 28, 25)
text("09.oct 2012", 702, 29)
text("200 nT", 830, 49)
text("UTC", 756, 1224, anchor="left")
text("Tromso Geophysical Observatory", 398, 1203, color="#c4c4c4")

# current-time arrow
line(741.3, 15, 741.3, 45)
line(738.5, 40.5, 741.3, 45)
line(744.1, 40.5, 741.3, 45)

# 200 nT scale bar
line(822.7, 15, 822.7, 39.3)
line(812.3, 15, 833, 15)
line(812.3, 39.3, 833, 39.3)
line(819, 27.7, 826, 27.7)

# navigation buttons
buttons = [("<- Prev. day", 280.3, 360.3, "#00a000"), ("To MENU", 365.7, 435.3, "#0000b0"),
           ("Next day ->", 440.3, 520.7, "#00a000"), ("Realtime", 800.3, 850.7, "#a00000")]
for label, bx0, bx1, c in buttons:
    shapes.append(dict(type="rect", xref="paper", yref="paper", x0=px(bx0), x1=px(bx1),
                       y0=py(1241), y1=py(1256.5), line=dict(color=c, width=1)))
    text(label, (bx0 + bx1) / 2, 1249, color=c)

components = ["D", "H", "Z", "I", "F"]
for k, comp in enumerate(components):
    cx0 = 664.3 + 14 * k
    shapes.append(dict(type="rect", xref="paper", yref="paper", x0=px(cx0), x1=px(cx0 + 14),
                       y0=py(1241), y1=py(1256.5), line=dict(color="#999900", width=1)))
    text(comp, cx0 + 7, 1249)

# outer frame (left, top, bottom)
line(0.5, 0, 0.5, 1260, width=1)
line(0, 0.5, 860, 0.5, width=1)
line(0, 1259.5, 860, 1259.5, width=1)

fig.update_layout(
    width=W, height=H,
    margin=dict(l=0, r=0, t=0, b=0),
    paper_bgcolor=BG, plot_bgcolor=BG,
    showlegend=False,
    shapes=shapes, annotations=ann,
    xaxis=dict(domain=[px(X0), px(X1)], range=x_range, showgrid=False, zeroline=False,
               showline=True, linecolor="black", linewidth=1, mirror="ticks",
               ticks="inside", ticklen=4, tickcolor="black", tickwidth=1,
               tickmode="array", tickvals=hour_ticks, ticktext=hour_labels,
               tickfont=dict(family=FONT, size=10, color="black"), fixedrange=True),
    yaxis=dict(domain=[py(Y1), py(Y0)], range=y_range, showgrid=False, zeroline=False,
               showline=True, linecolor="black", linewidth=1, mirror=True,
               showticklabels=False, ticks="", fixedrange=True),
)

# the page's default body margin would shift the 860x1260 figure
fig.write_html("out.html", config={"displayModeBar": False},
               post_script="document.body.style.margin='0';")
